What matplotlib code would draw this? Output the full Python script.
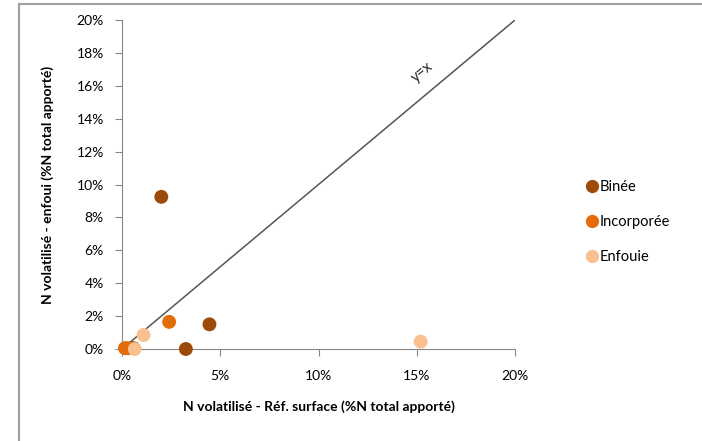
import matplotlib.pyplot as plt
from matplotlib.lines import Line2D
from matplotlib.ticker import FuncFormatter, MultipleLocator

# values in % of total N applied
series = ["Binée", "Incorporée", "Enfouie"]
colors = ["#9C4A0A", "#E36C0A", "#FAC090"]
binee_x = [2.0, 4.45, 3.25, 0.6]
binee_y = [9.25, 1.5, 0.0, 0.05]
incorp_x = [2.4, 0.15, 0.3]
incorp_y = [1.65, 0.05, 0.05]
enfouie_x = [1.1, 0.65, 15.2]
enfouie_y = [0.85, 0.0, 0.45]

plt.rcParams["font.family"] = ["Lato", "DejaVu Sans"]

fig = plt.figure(figsize=(7.02, 4.41), dpi=100)
ax = fig.add_axes([122 / 702, 1 - 349 / 441, 393 / 702, 329 / 441])

ax.plot([0, 20], [0, 20], color="#555555", lw=1.1, zorder=1)
ax.text(15.3, 16.8, "y=x", rotation=40, ha="center", va="center",
        fontsize=10.5, color="#222222")

data = [(binee_x, binee_y), (incorp_x, incorp_y), (enfouie_x, enfouie_y)]
for (xs, ys), c, name in zip(data, colors, series):
    ax.scatter(xs, ys, s=100, color=c, edgecolors="none", zorder=3,
               clip_on=False, label=name)

ax.set_xlim(0, 20)
ax.set_ylim(0, 20)
ax.xaxis.set_major_locator(MultipleLocator(5))
ax.yaxis.set_major_locator(MultipleLocator(2))
pct = FuncFormatter(lambda v, p: f"{v:.0f}%")
ax.xaxis.set_major_formatter(pct)
ax.yaxis.set_major_formatter(pct)

for s in ["top", "right"]:
    ax.spines[s].set_visible(False)
for s in ["left", "bottom"]:
    ax.spines[s].set_color("#888888")
ax.tick_params(colors="#888888", labelcolor="black", labelsize=10,
               length=5, direction="out")
ax.tick_params(axis="x", pad=10)
ax.tick_params(axis="y", pad=8)

ax.set_xlabel("N volatilisé - Réf. surface (%N total apporté)",
              fontsize=10, fontweight="bold", labelpad=13)
ax.set_ylabel("N volatilisé - enfoui (%N total apporté)",
              fontsize=10, fontweight="bold", labelpad=16)

handles = [Line2D([], [], marker="o", ls="none", color=c, markersize=8.5)
           for c in colors]
fig.legend(handles, series, loc="center left", bbox_to_anchor=(572 / 702, 1 - 222 / 441),
           frameon=False, fontsize=10.5, handletextpad=0.0, labelspacing=1.45,
           handlelength=1.0)

# outer chart frame
fig.add_artist(Line2D([19 / 702, 19 / 702], [0, 1 - 4 / 441], color="#A0A0A0", lw=1.5))
fig.add_artist(Line2D([19 / 702, 1], [1 - 4 / 441, 1 - 4 / 441], color="#A0A0A0", lw=1.5))

fig.savefig("out.png", dpi=100)
